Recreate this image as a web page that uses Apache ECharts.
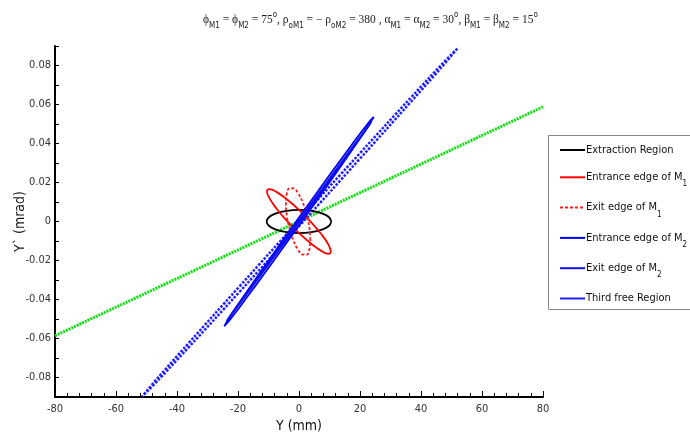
<!DOCTYPE html>
<html><head><meta charset="utf-8">
<script src="https://cdn.jsdelivr.net/npm/echarts@6/dist/echarts.min.js"></script>
<style>html,body{margin:0;padding:0;background:#fff}#c{width:690px;height:440px}</style>
</head><body><div id="c"></div>
<script>
// Tick settings / labels
const xTicks = [-80, -60, -40, -20, 0, 20, 40, 60, 80];
const yLabels = ['-0.08', '-0.06', '-0.04', '-0.02', '0', '0.02', '0.04', '0.06', '0.08'];

const seriesNames = ['Extraction Region', 'Entrance edge of M1', 'Exit edge of M1',
  'Entrance edge of M2', 'Exit edge of M2', 'Third free Region'];

// [Y (mm), Y' (mrad)] points, around each ellipse
const extractionRegion = [[10.6,0],[9.79,0.0023],[7.49,0.0042],[4.06,0.0055],[0,0.006],[-4.06,0.0055],[-7.49,0.0042],[-9.79,0.0023],[-10.6,0],[-9.79,-0.0023],[-7.49,-0.0042],[-4.06,-0.0055],[0,-0.006],[4.06,-0.0055],[7.49,-0.0042],[9.79,-0.0023]];
const entranceM1 = [[10.5,-0.0155],[9.70,-0.0120],[7.42,-0.0067],[4.02,-0.0004],[0,0.006],[-4.02,0.0114],[-7.42,0.0152],[-9.70,0.0166],[-10.5,0.0155],[-9.70,0.0120],[-7.42,0.0067],[-4.02,0.0004],[0,-0.006],[4.02,-0.0114],[7.42,-0.0152],[9.70,-0.0166]];
const exitM1 = [[3.7,-0.0095],[3.4,-0.0032],[2.53,0.0035],[1.23,0.0098],[-0.3,0.0145],[-1.83,0.0170],[-3.13,0.0170],[-4.0,0.0143],[-4.3,0.0095],[-4.0,0.0032],[-3.13,-0.0035],[-1.83,-0.0098],[-0.3,-0.0145],[1.23,-0.0170],[2.53,-0.0170],[3.4,-0.0143]];
const entranceM2 = [[24.5,0.0537],[22.64,0.0504],[17.32,0.0394],[9.38,0.0224],[0,0.002],[-9.38,-0.0187],[-17.32,-0.0366],[-22.64,-0.0488],[-24.5,-0.0537],[-22.64,-0.0504],[-17.32,-0.0394],[-9.38,-0.0224],[0,-0.002],[9.38,0.0187],[17.32,0.0366],[22.64,0.0488]];
const exitM2 = [[23.7,0.051],[22.28,0.0477],[17.47,0.0371],[9.99,0.0209],[1.0,0.0015],[-8.15,-0.0181],[-16.05,-0.0350],[-21.52,-0.0465],[-23.7,-0.051],[-22.28,-0.0477],[-17.47,-0.0371],[-9.99,-0.0209],[-1.0,-0.0015],[8.15,0.0181],[16.05,0.0350],[21.52,0.0465]];
const thirdFree = [[51.9,0.0887],[47.97,0.0825],[36.77,0.0637],[20.02,0.0351],[0.25,0.0010],[-19.52,-0.0333],[-36.27,-0.0625],[-47.47,-0.0823],[-51.4,-0.0897],[-47.47,-0.0835],[-36.27,-0.0647],[-19.52,-0.0361],[0.25,-0.0020],[20.02,0.0323],[36.77,0.0615],[47.97,0.0813]];
const greenLine = [[-80,-0.0586],[80,0.0588]];

const narrow = "'DejaVu Sans'";
const cond = 'condensed';
const closed = d => d.concat([d[0]]);

const chart = echarts.init(document.getElementById('c'), null, {renderer: 'canvas'});

function ell(name, data, color, type, width) {
  return {
    name, type: 'line', data: closed(data), showSymbol: false, symbol: 'none',
    smooth: 0.45, animation: false,
    lineStyle: {color, width: width || 1.8, type: type || 'solid'},
    itemStyle: {color}
  };
}

const option = {
  animation: false,
  backgroundColor: '#fff',
  title: {
    left: 198, top: 2,
    text: '{t|ϕ}{s|M1}{t| = ϕ}{s|M2}{t| = 75}{u|o}{t|, ρ}{s|oM1}{t| = − ρ}{s|oM2}{t| = 380 , α}{s|M1}{t| = α}{s|M2}{t| = 30}{u|o}{t|, β}{s|M1}{t| = β}{s|M2}{t| = 15}{u|o}',
    textStyle: {
      fontWeight: 'normal',
      rich: {
        t: {fontFamily: "'Liberation Serif',serif", fontWeight: 'normal', fontSize: 11.5, color: '#222', lineHeight: 26, verticalAlign: 'middle'},
        s: {fontFamily: narrow, fontWeight: cond, fontSize: 8, color: '#222', lineHeight: 26, verticalAlign: 'bottom', padding: [0,0,3,0]},
        u: {fontFamily: narrow, fontWeight: cond, fontSize: 8, color: '#222', lineHeight: 26, verticalAlign: 'top', padding: [4,0,0,0]}
      }
    }
  },
  grid: {left: 55, right: 147, top: 46, bottom: 43, containLabel: false, outerBoundsMode: 'none'},
  legend: {
    orient: 'vertical', left: 554, top: 137,
    itemWidth: 25, itemHeight: 14, itemGap: 11.3,
    itemStyle: {opacity: 0},
    data: [
      {name: seriesNames[0]}, {name: seriesNames[1]}, {name: seriesNames[2]},
      {name: seriesNames[3]}, {name: seriesNames[4]},
      {name: seriesNames[5], lineStyle: {type: 'solid'}}
    ],
    textStyle: {
      fontFamily: narrow, fontWeight: cond, fontSize: 11, color: '#111', lineHeight: 16, padding: [0,0,0,-4],
      rich: {s: {fontFamily: narrow, fontWeight: cond, fontSize: 8, color: '#111', lineHeight: 16, verticalAlign: 'bottom', padding: [0,0,-3,0]}}
    },
    formatter: n => n.replace(/M([12])$/, 'M{s|$1}'),
    selectedMode: false
  },
  graphic: [{
    type: 'rect', shape: {x: 548.5, y: 135.5, width: 200, height: 174},
    style: {fill: 'none', stroke: '#888', lineWidth: 1}, z: -1
  }],
  xAxis: {
    type: 'value', min: -80, max: 80, interval: 20,
    name: 'Y (mm)', nameLocation: 'middle', nameGap: 22, nameMoveOverlap: false,
    nameTextStyle: {fontFamily: narrow, fontWeight: cond, fontSize: 14, color: '#111'},
    axisLine: {onZero: false, lineStyle: {color: '#000', width: 2}},
    axisTick: {inside: true, length: 6, lineStyle: {color: '#000'}},
    minorTick: {show: true, splitNumber: 5, length: 4, lineStyle: {color: '#000'}},
    axisLabel: {fontFamily: narrow, fontWeight: cond, fontSize: 11, color: '#333', margin: 7,
      formatter: v => (xTicks.indexOf(v) >= 0 ? String(v) : '')},
    splitLine: {show: false}
  },
  yAxis: {
    type: 'value', min: -0.09, max: 0.09, interval: 0.01,
    name: 'Y` (mrad)', nameLocation: 'middle', nameGap: 28, nameMoveOverlap: false,
    nameTextStyle: {fontFamily: narrow, fontWeight: cond, fontSize: 14, color: '#111'},
    axisLine: {onZero: false, lineStyle: {color: '#000', width: 2}},
    axisTick: {inside: true, length: 4, lineStyle: {color: '#000'}},
    axisLabel: {fontFamily: narrow, fontWeight: cond, fontSize: 11, color: '#333', margin: 4,
      formatter: v => {
        const k = Math.round(v * 100);
        if (k % 2 !== 0) return '';
        const idx = k / 2 + 4;
        return yLabels[idx] || '';
      }},
    splitLine: {show: false}
  },
  series: [
    {name: 'green', type: 'line', data: greenLine, showSymbol: false, symbol: 'none',
      lineStyle: {color: '#11e011', width: 3, type: [2, 1]}, z: 1},
    ell(seriesNames[5], thirdFree, '#1f1fff', [2.5, 1.5], 2.5),
    ell(seriesNames[0], extractionRegion, '#000000'),
    ell(seriesNames[1], entranceM1, '#ff0000'),
    ell(seriesNames[2], exitM1, '#ff1a1a', [3, 2]),
    ell(seriesNames[3], entranceM2, '#0000ff'),
    ell(seriesNames[4], exitM2, '#1010ee')
  ]
};
chart.setOption(option);
</script>
</body></html>
